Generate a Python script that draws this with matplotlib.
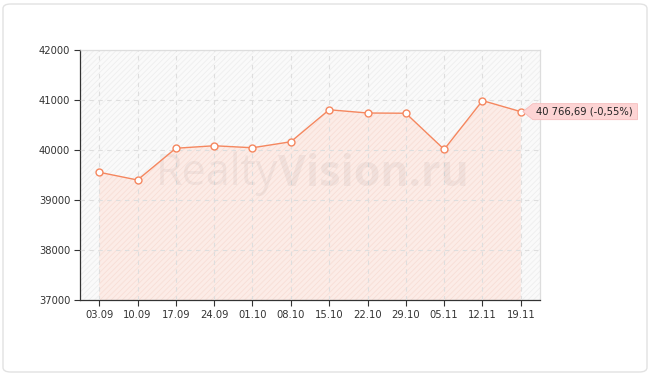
import matplotlib
matplotlib.use("Agg")
import matplotlib.pyplot as plt
from matplotlib.patches import FancyBboxPatch, Rectangle, Polygon
from matplotlib.transforms import IdentityTransform
import numpy as np

dates = ["03.09", "10.09", "17.09", "24.09", "01.10", "08.10",
         "15.10", "22.10", "29.10", "05.11", "12.11", "19.11"]
values = [39555, 39400, 40035, 40085, 40045, 40165,
          40805, 40740, 40735, 40012, 40988, 40766.69]
yticks = [37000, 38000, 39000, 40000, 41000, 42000]
label_text = "40 766,69 (-0,55%)"

plt.rcParams["hatch.linewidth"] = 0.6
plt.rcParams["font.family"] = ["DejaVu Sans"]

W, H = 650, 375
fig = plt.figure(figsize=(6.5, 3.75), dpi=100)
fig.patch.set_facecolor("white")

# outer rounded border
border = FancyBboxPatch((3 / W, 3 / H), 644 / W, 368 / H,
                        boxstyle="round,pad=0,rounding_size=0.012",
                        transform=fig.transFigure, facecolor="none",
                        edgecolor="#e2e2e2", linewidth=1.0, zorder=-5)
fig.patches.append(border)

ax = fig.add_axes([80 / W, 75 / H, 460 / W, 250 / H])
ax.set_facecolor("#fafafa")
x = np.arange(len(dates))

ax.set_xlim(-0.5, len(dates) - 0.5)
ax.set_ylim(yticks[0], yticks[-1])

# hatched background
bg = Rectangle((0, 0), 1, 1, transform=ax.transAxes, facecolor="none",
               edgecolor="#eeeeee", hatch="//////", linewidth=0, zorder=0)
ax.add_patch(bg)

# fill under line
ax.fill_between(x, values, yticks[0], facecolor="#fcece7", edgecolor="none", zorder=1)
ax.fill_between(x, values, yticks[0], facecolor="none", edgecolor="#f8ded6",
                hatch="//////", linewidth=0, zorder=1)

ax.grid(True, color="#dedede", linestyle=(0, (4, 4)), linewidth=0.8, zorder=2)
ax.set_axisbelow(False)

# watermark
wm_y = 1 - 174 / H
ax.text(278 / W, wm_y, "Realty", ha="right", va="center",
        transform=fig.transFigure, fontsize=31, family="Open Sans",
        color="#000000", alpha=0.045, zorder=3)
ax.text(278 / W, wm_y, "Vision.ru", ha="left", va="center",
        transform=fig.transFigure, fontsize=31, fontweight="bold",
        family="Open Sans", color="#000000", alpha=0.045, zorder=3)

ax.plot(x, values, color="#f5875f", linewidth=1.0, zorder=4,
        marker="o", markersize=5, markerfacecolor="white",
        markeredgecolor="#f5875f", markeredgewidth=1.0)

ax.set_xticks(x)
ax.set_xticklabels(dates)
ax.set_yticks(yticks)
ax.set_yticklabels([str(v) for v in yticks])
ax.tick_params(axis="both", labelsize=7.2, colors="#333333", length=4, width=0.8,
               direction="out", pad=3)

for s in ["left", "bottom"]:
    ax.spines[s].set_color("#333333")
    ax.spines[s].set_linewidth(0.9)
for s in ["top", "right"]:
    ax.spines[s].set_color("#dddddd")
    ax.spines[s].set_linewidth(0.9)

# value label with pointer
px, py = ax.transData.transform((x[-1], values[-1]))
txt = fig.text((px + 15) / W, py / H, label_text, ha="left", va="center",
               fontsize=7.2, color="#222222", zorder=7)
renderer = fig.canvas.get_renderer()
bb = txt.get_window_extent(renderer)
left = px + 12
right = bb.x1 + 5
top = py + 8
bottom = py - 8
poly = Polygon([(px + 2, py), (left, top), (right, top), (right, bottom), (left, bottom)],
               closed=True, transform=IdentityTransform(), facecolor="#fdd4d4",
               edgecolor="#f6bcbc", linewidth=0.6, zorder=6)
fig.patches.append(poly)

fig.savefig("out.png", dpi=100)
